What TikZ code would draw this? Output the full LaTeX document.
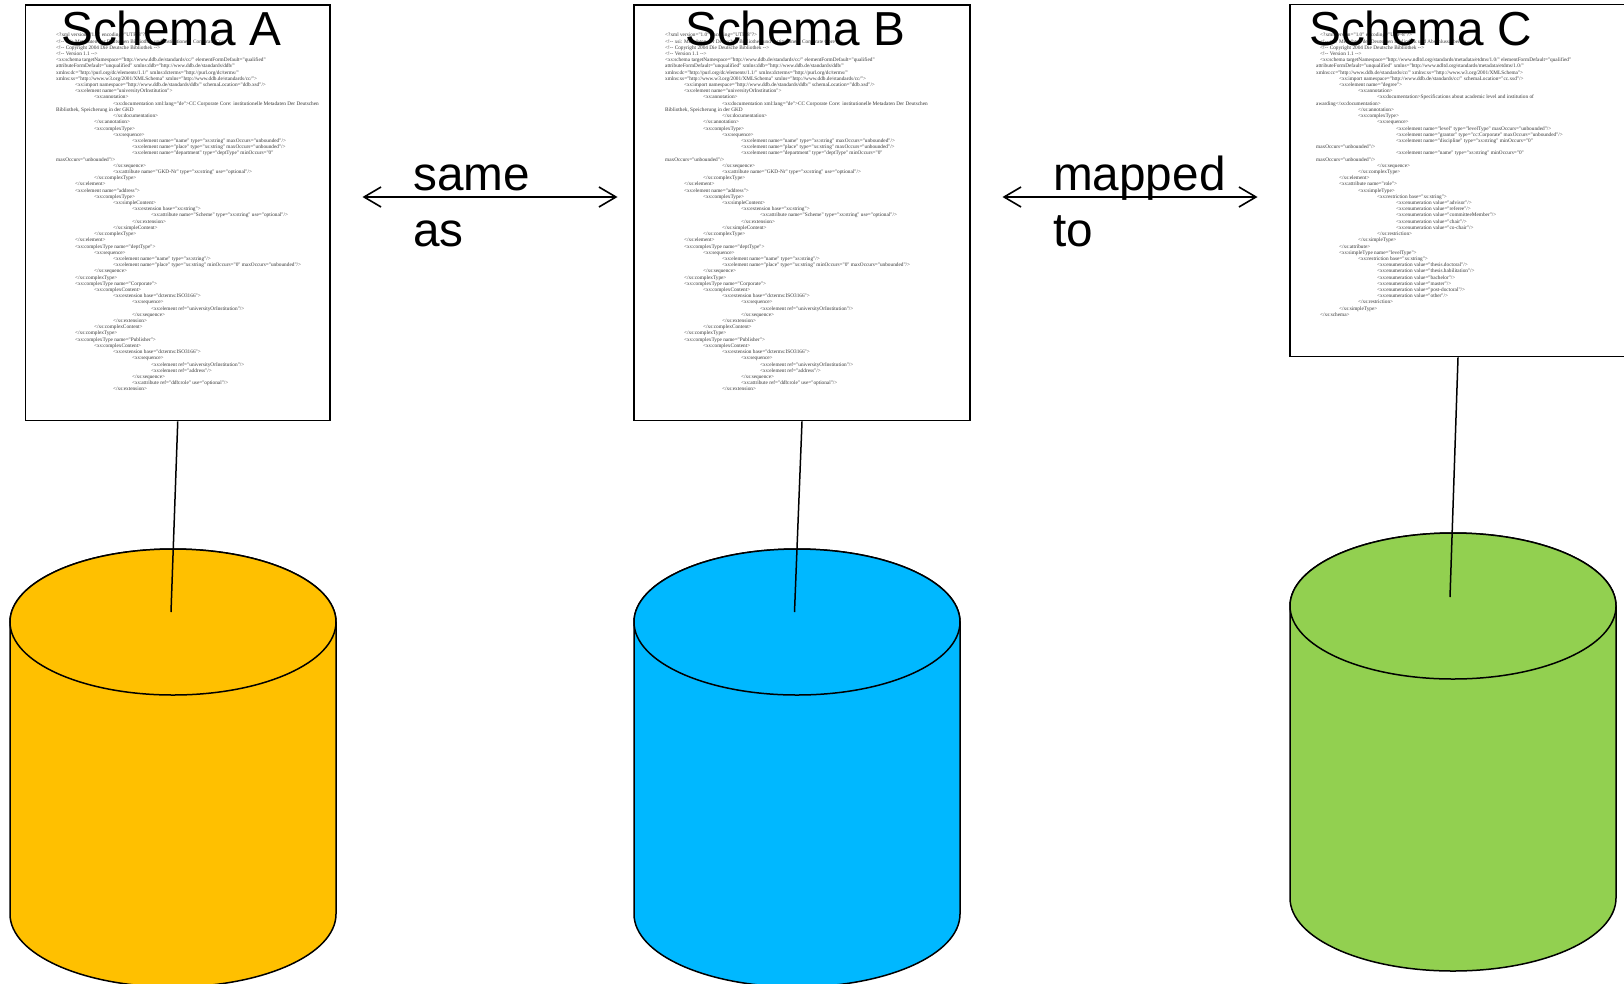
\documentclass[tikz,border=0pt]{standalone}
\usepackage{fontspec}
\setmainfont{Liberation Sans}
\newfontfamily\xmlfont{Liberation Serif}
\usetikzlibrary{arrows.meta}
\definecolor{dbamber}{HTML}{FFC000}
\definecolor{dbblue}{HTML}{00B8FF}
\definecolor{dbgreen}{HTML}{92D050}
\newlength\xmloff
\newcommand\XL[2]{\hspace*{\dimexpr\xmloff+#1pt*19\relax}#2\\}
\newcommand\XW[1]{#1\\}
\newcommand\xmlCC{%
\XL{0}{<?xml version="1.0" encoding="UTF-8"?>}
\XL{0}{<!-- xsi: Metadaten der Deutschen Bibliothek und Institutionen: Corporate Core -->}
\XL{0}{<!-- Copyright 2004 Die Deutsche Bibliothek -->}
\XL{0}{<!-- Version 1.1 -->}
\XL{0}{<xs:schema targetNamespace="http://www.ddb.de/standards/cc/" elementFormDefault="qualified"}
\XW{attributeFormDefault="unqualified" xmlns:ddb="http://www.ddb.de/standards/ddb/"}
\XW{xmlns:dc="http://purl.org/dc/elements/1.1/" xmlns:dcterms="http://purl.org/dc/terms/"}
\XW{xmlns:xs="http://www.w3.org/2001/XMLSchema" xmlns="http://www.ddb.de/standards/cc/">}
\XL{1}{<xs:import namespace="http://www.ddb.de/standards/ddb/" schemaLocation="ddb.xsd"/>}
\XL{1}{<xs:element name="universityOrInstitution">}
\XL{2}{<xs:annotation>}
\XL{3}{<xs:documentation xml:lang="de">CC Corporate Core: institutionelle Metadaten Der Deutschen}
\XW{Bibliothek, Speicherung in der GKD}
\XL{3}{</xs:documentation>}
\XL{2}{</xs:annotation>}
\XL{2}{<xs:complexType>}
\XL{3}{<xs:sequence>}
\XL{4}{<xs:element name="name" type="xs:string" maxOccurs="unbounded"/>}
\XL{4}{<xs:element name="place" type="xs:string" maxOccurs="unbounded"/>}
\XL{4}{<xs:element name="department" type="deptType" minOccurs="0"}
\XW{maxOccurs="unbounded"/>}
\XL{3}{</xs:sequence>}
\XL{3}{<xs:attribute name="GKD-Nr" type="xs:string" use="optional"/>}
\XL{2}{</xs:complexType>}
\XL{1}{</xs:element>}
\XL{1}{<xs:element name="address">}
\XL{2}{<xs:complexType>}
\XL{3}{<xs:simpleContent>}
\XL{4}{<xs:extension base="xs:string">}
\XL{5}{<xs:attribute name="Scheme" type="xs:string" use="optional"/>}
\XL{4}{</xs:extension>}
\XL{3}{</xs:simpleContent>}
\XL{2}{</xs:complexType>}
\XL{1}{</xs:element>}
\XL{1}{<xs:complexType name="deptType">}
\XL{2}{<xs:sequence>}
\XL{3}{<xs:element name="name" type="xs:string"/>}
\XL{3}{<xs:element name="place" type="xs:string" minOccurs="0" maxOccurs="unbounded"/>}
\XL{2}{</xs:sequence>}
\XL{1}{</xs:complexType>}
\XL{1}{<xs:complexType name="Corporate">}
\XL{2}{<xs:complexContent>}
\XL{3}{<xs:extension base="dcterms:ISO3166">}
\XL{4}{<xs:sequence>}
\XL{5}{<xs:element ref="universityOrInstitution"/>}
\XL{4}{</xs:sequence>}
\XL{3}{</xs:extension>}
\XL{2}{</xs:complexContent>}
\XL{1}{</xs:complexType>}
\XL{1}{<xs:complexType name="Publisher">}
\XL{2}{<xs:complexContent>}
\XL{3}{<xs:extension base="dcterms:ISO3166">}
\XL{4}{<xs:sequence>}
\XL{5}{<xs:element ref="universityOrInstitution"/>}
\XL{5}{<xs:element ref="address"/>}
\XL{4}{</xs:sequence>}
\XL{4}{<xs:attribute ref="ddb:role" use="optional"/>}
\XL{3}{</xs:extension>}
}
\newcommand\xmlETD{%
\XL{0}{<?xml version="1.0" encoding="UTF-8"?>}
\XL{0}{<!-- xsi: Metadaten der Deutschen Bibliothek und Abschlussarbeiten -->}
\XL{0}{<!-- Copyright 2004 Die Deutsche Bibliothek -->}
\XL{0}{<!-- Version 1.1 -->}
\XL{0}{<xs:schema targetNamespace="http://www.ndltd.org/standards/metadata/etdms/1.0/" elementFormDefault="qualified"}
\XW{attributeFormDefault="unqualified" xmlns="http://www.ndltd.org/standards/metadata/etdms/1.0/"}
\XW{xmlns:cc="http://www.ddb.de/standards/cc/" xmlns:xs="http://www.w3.org/2001/XMLSchema">}
\XL{1}{<xs:import namespace="http://www.ddb.de/standards/cc/" schemaLocation="cc.xsd"/>}
\XL{1}{<xs:element name="degree">}
\XL{2}{<xs:annotation>}
\XL{3}{<xs:documentation>Specifications about academic level and institution of}
\XW{awarding</xs:documentation>}
\XL{2}{</xs:annotation>}
\XL{2}{<xs:complexType>}
\XL{3}{<xs:sequence>}
\XL{4}{<xs:element name="level" type="levelType" maxOccurs="unbounded"/>}
\XL{4}{<xs:element name="grantor" type="cc:Corporate" maxOccurs="unbounded"/>}
\XL{4}{<xs:element name="discipline" type="xs:string" minOccurs="0"}
\XW{maxOccurs="unbounded"/>}
\XL{4}{<xs:element name="name" type="xs:string" minOccurs="0"}
\XW{maxOccurs="unbounded"/>}
\XL{3}{</xs:sequence>}
\XL{2}{</xs:complexType>}
\XL{1}{</xs:element>}
\XL{1}{<xs:attribute name="role">}
\XL{2}{<xs:simpleType>}
\XL{3}{<xs:restriction base="xs:string">}
\XL{4}{<xs:enumeration value="advisor"/>}
\XL{4}{<xs:enumeration value="referee"/>}
\XL{4}{<xs:enumeration value="committeeMember"/>}
\XL{4}{<xs:enumeration value="chair"/>}
\XL{4}{<xs:enumeration value="co-chair"/>}
\XL{3}{</xs:restriction>}
\XL{2}{</xs:simpleType>}
\XL{1}{</xs:attribute>}
\XL{1}{<xs:simpleType name="levelType">}
\XL{2}{<xs:restriction base="xs:string">}
\XL{3}{<xs:enumeration value="thesis.doctoral"/>}
\XL{3}{<xs:enumeration value="thesis.habilitation"/>}
\XL{3}{<xs:enumeration value="bachelor"/>}
\XL{3}{<xs:enumeration value="master"/>}
\XL{3}{<xs:enumeration value="post-doctoral"/>}
\XL{3}{<xs:enumeration value="other"/>}
\XL{2}{</xs:restriction>}
\XL{1}{</xs:simpleType>}
\XL{0}{</xs:schema>}
}
% name, x left, x right, y top, y of lower ellipse centre, colour
\newcommand\dbcyl[6]{%
  \pgfmathsetmacro\cylrx{(#3-#2)/2}
  \pgfmathsetmacro\cylcx{(#3+#2)/2}
  \draw[dbline,fill=#6] (#2,-#4-73) -- (#2,-#5)
    arc[start angle=180,end angle=360,x radius=\cylrx,y radius=73]
    -- (#3,-#4-73)
    arc[start angle=0,end angle=180,x radius=\cylrx,y radius=73] -- cycle;
  \draw[dbline,fill=#6] (\cylcx,-#4-73) ellipse[x radius=\cylrx,y radius=73];
}
\tikzset{
  dbline/.style={draw=black,line width=1.5pt},
  schemabox/.style={draw=black,line width=1.8pt,fill=white,rectangle,inner sep=0pt},
  xmltext/.style={anchor=north west,inner sep=0pt,align=left,text=black!78,
    font=\xmlfont\fontsize{5.28}{6.21}\selectfont},
  biglabel/.style={anchor=base west,inner sep=0pt,font=\fontsize{47.7}{56.7}\selectfont},
  linklabel/.style={anchor=north west,inner sep=0pt,align=left,font=\fontsize{47.7}{56.7}\selectfont},
  tie/.style={draw=black,line width=1.5pt},
  relation/.style={draw=black,line width=1.6pt,{Straight Barb[length=17pt,width=20pt,line width=1.6pt]}-{Straight Barb[length=17pt,width=20pt,line width=1.6pt]}},
}
\begin{document}
\begin{tikzpicture}[x=1pt,y=1pt]
\useasboundingbox (0,0) rectangle (1624,-983);
\clip (0,0) rectangle (1624,-983);
\dbcyl{a}{10}{336}{549}{914}{dbamber}
\dbcyl{b}{634}{960}{549}{914}{dbblue}
\dbcyl{c}{1290}{1616}{533}{898}{dbgreen}
\coordinate (endA) at (171,-612);
\coordinate (endB) at (794.5,-612);
\coordinate (endC) at (1450,-597);
\node[schemabox,minimum width=304.5pt,minimum height=415.5pt] (boxA) at (177.75,-212.75) {};
\node[schemabox,minimum width=336pt,minimum height=415.5pt] (boxB) at (802,-212.75) {};
\node[schemabox,minimum width=336pt,minimum height=352pt] (boxC) at (1458,-180.5) {};
\draw[tie] (boxA.south) -- (endA);
\draw[tie] (boxB.south) -- (endB);
\draw[tie] (boxC.south) -- (endC);
\setlength\xmloff{0pt}
\node[xmltext] (xmlA) at (56,-33) {\xmlCC};
\node[xmltext] (xmlB) at (665,-33) {\xmlCC};
\setlength\xmloff{4pt}
\node[xmltext] (xmlC) at (1316,-33) {\xmlETD};
\node[biglabel] (titleA) at (61,-45) {Schema A};
\node[biglabel] (titleB) at (685,-45) {Schema B};
\node[biglabel] (titleC) at (1309,-45) {Schema C};
\coordinate (sameL) at (362.5,-197);
\coordinate (sameR) at (617.5,-197);
\coordinate (mapL) at (1002.5,-197);
\coordinate (mapR) at (1257.5,-197);
\draw[relation] (sameL) -- (sameR);
\draw[relation] (mapL) -- (mapR);
\node[linklabel] (sameas) at (413,-155.5) {\vphantom{d}same\\as};
\node[linklabel] (mappedto) at (1053,-155.5) {\vphantom{d}mapped\\to};
\end{tikzpicture}
\end{document}
